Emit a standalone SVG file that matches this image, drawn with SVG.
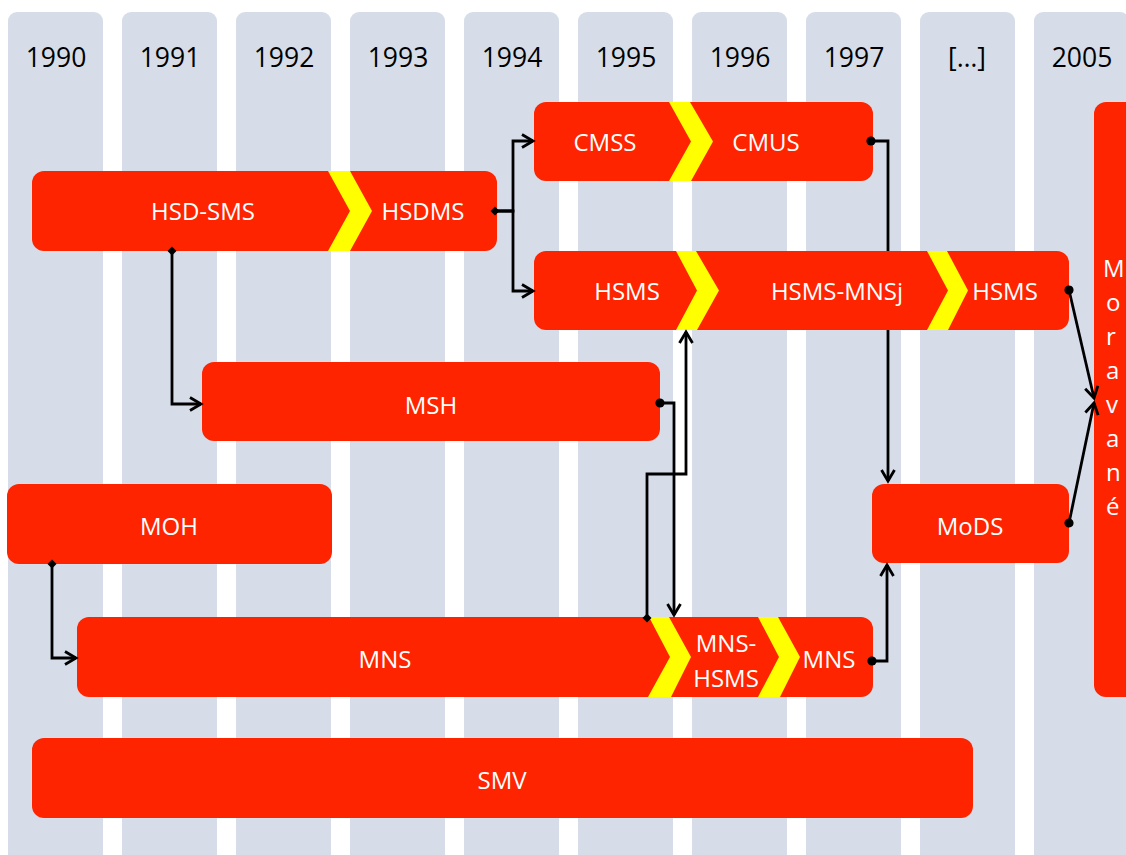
<svg xmlns="http://www.w3.org/2000/svg" width="1126" height="855" viewBox="0 0 1126 855">
<style>
.col{fill:#D6DDE9}
.yr{font-family:"Open Sans","Liberation Sans",sans-serif;font-size:26.5px;fill:#000;text-anchor:middle}
.box{fill:#FF2400}
.chev{fill:#FFFF00}
.lbl{font-family:"Open Sans","Liberation Sans",sans-serif;font-size:24px;fill:#fff;text-anchor:middle}
.con{fill:none;stroke:#000;stroke-width:2.8}
</style>
<defs>
<marker id="arr" markerUnits="userSpaceOnUse" viewBox="-2 -2 16 17" markerWidth="16" markerHeight="17" refX="11" refY="6.5" orient="auto">
<path d="M0,0 L11,6.5 L0,13" fill="none" stroke="#000" stroke-width="2.8"/>
</marker>
<marker id="dot" markerUnits="userSpaceOnUse" viewBox="-6 -6 12 12" markerWidth="12" markerHeight="12" refX="0" refY="0" orient="auto">
<circle cx="0" cy="0" r="4.6" fill="#000"/>
</marker>
<marker id="dia" markerUnits="userSpaceOnUse" viewBox="-6 -6 12 12" markerWidth="12" markerHeight="12" refX="0" refY="0" orient="0">
<path d="M0,-4.5 L4.5,0 L0,4.5 L-4.5,0 Z" fill="#000"/>
</marker>
</defs>

<g id="columns">
<rect class="col" x="8" y="12" width="95" height="860" rx="9"/>
<rect class="col" x="122" y="12" width="95" height="860" rx="9"/>
<rect class="col" x="236" y="12" width="95" height="860" rx="9"/>
<rect class="col" x="350" y="12" width="95" height="860" rx="9"/>
<rect class="col" x="464" y="12" width="95" height="860" rx="9"/>
<rect class="col" x="578" y="12" width="95" height="860" rx="9"/>
<rect class="col" x="692" y="12" width="95" height="860" rx="9"/>
<rect class="col" x="806" y="12" width="95" height="860" rx="9"/>
<rect class="col" x="920" y="12" width="95" height="860" rx="9"/>
<rect class="col" x="1034" y="12" width="95" height="860" rx="9"/>
<text class="yr" x="56" y="67">1990</text>
<text class="yr" x="170" y="67">1991</text>
<text class="yr" x="284" y="67">1992</text>
<text class="yr" x="398" y="67">1993</text>
<text class="yr" x="512" y="67">1994</text>
<text class="yr" x="626" y="67">1995</text>
<text class="yr" x="740" y="67">1996</text>
<text class="yr" x="854" y="67">1997</text>
<text class="yr" x="967" y="67">[…]</text>
<text class="yr" x="1082" y="67">2005</text>
</g>

<g id="node-hsd-sms">
<rect class="box" x="32" y="171" width="465" height="80" rx="12"/>
<polygon class="chev" points="328,171 350,171 372,211 350,251 328,251 350,211"/>
<text class="lbl" x="203" y="220">HSD-SMS</text>
<text class="lbl" x="423" y="220">HSDMS</text>
</g>

<g id="node-cmss">
<rect class="box" x="534" y="102" width="339" height="79" rx="12"/>
<polygon class="chev" points="669,102 690,102 713,141.5 691,181 669,181 691,141.5"/>
<text class="lbl" x="605" y="151">CMSS</text>
<text class="lbl" x="766" y="151">CMUS</text>
</g>

<g id="node-hsms">
<rect class="box" x="534" y="251" width="535" height="79" rx="12"/>
<polygon class="chev" points="676,251 696,251 719,290.5 697,330 676,330 697,290.5"/>
<polygon class="chev" points="927,251 947,251 968,290.5 948,330 927,330 948,290.5"/>
<text class="lbl" x="627" y="300">HSMS</text>
<text class="lbl" x="837" y="300">HSMS-MNSj</text>
<text class="lbl" x="1005" y="300">HSMS</text>
</g>

<g id="node-msh">
<rect class="box" x="202" y="362" width="458" height="79" rx="12"/>
<text class="lbl" x="431" y="414">MSH</text>
</g>

<g id="node-moh">
<rect class="box" x="7" y="484" width="325" height="80" rx="12"/>
<text class="lbl" x="169" y="535">MOH</text>
</g>

<g id="node-mods">
<rect class="box" x="872" y="484" width="197" height="79" rx="12"/>
<text class="lbl" x="970" y="535">MoDS</text>
</g>

<g id="node-mns">
<rect class="box" x="77" y="617" width="796" height="80" rx="12"/>
<polygon class="chev" points="649,617 669,617 691,657 671,697 648,697 670,657"/>
<polygon class="chev" points="758,617 778,617 800,657 780,697 758,697 779,657"/>
<text class="lbl" x="385" y="668">MNS</text>
<text class="lbl" x="726" y="652">MNS-</text>
<text class="lbl" x="726" y="687">HSMS</text>
<text class="lbl" x="829" y="668">MNS</text>
</g>

<g id="node-smv">
<rect class="box" x="32" y="738" width="941" height="80" rx="12"/>
<text class="lbl" x="502" y="789">SMV</text>
</g>

<g id="node-moravane">
<rect class="box" x="1094" y="102" width="60" height="595" rx="12"/>
<text class="lbl" style="text-anchor:start" x="1103" y="277">M<tspan x="1106" dy="34">o</tspan><tspan x="1106" dy="34">r</tspan><tspan x="1106" dy="34">a</tspan><tspan x="1106" dy="34">v</tspan><tspan x="1106" dy="34">a</tspan><tspan x="1106" dy="34">n</tspan><tspan x="1106" dy="34">é</tspan></text>
</g>

<g id="connectors">
<path class="con" d="M495,211 H513 V141 H533" marker-start="url(#dia)" marker-end="url(#arr)"/>
<path class="con" d="M495,211 H513 V291 H533" marker-end="url(#arr)"/>
<path class="con" d="M172,251 V404 H201" marker-start="url(#dia)" marker-end="url(#arr)"/>
<path class="con" d="M52,564 V658 H76" marker-start="url(#dia)" marker-end="url(#arr)"/>
<path class="con" d="M660,403 H674 V615" marker-start="url(#dot)" marker-end="url(#arr)"/>
<path class="con" d="M647,618 V474 H686 V332" marker-start="url(#dia)" marker-end="url(#arr)"/>
<path class="con" d="M871,141 H888 V251 M888,330 V481" marker-start="url(#dot)" marker-end="url(#arr)"/>
<path class="con" d="M872,661 H887 V565" marker-start="url(#dot)" marker-end="url(#arr)"/>
<path class="con" d="M1069,290 L1094,398" marker-start="url(#dot)" marker-end="url(#arr)"/>
<path class="con" d="M1069,523 L1094,403" marker-start="url(#dot)" marker-end="url(#arr)"/>
</g>
</svg>
